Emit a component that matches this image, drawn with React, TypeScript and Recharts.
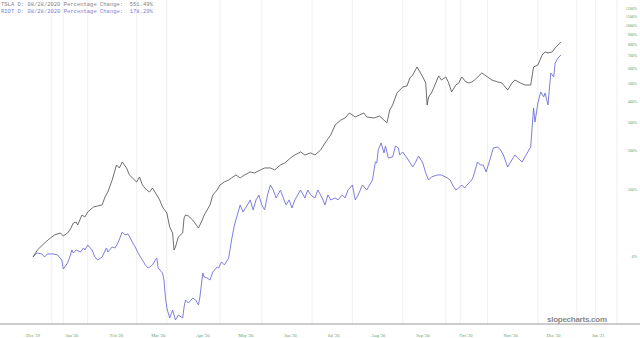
import { LineChart, Line, XAxis, YAxis, ReferenceLine } from 'recharts';

// TSLA, percentage change since the first session
const tslaDates = [
  '2019-12-05', '2019-12-08', '2019-12-13', '2019-12-17', '2019-12-20', '2019-12-24', '2019-12-26', '2019-12-29', '2019-12-31',
  '2020-01-02', '2020-01-04', '2020-01-05', '2020-01-08', '2020-01-10', '2020-01-12', '2020-01-16', '2020-01-19', '2020-01-22',
  '2020-01-24', '2020-01-26', '2020-01-29', '2020-01-31', '2020-02-01', '2020-02-03', '2020-02-05', '2020-02-08', '2020-02-10',
  '2020-02-12', '2020-02-15', '2020-02-17', '2020-02-19', '2020-02-22', '2020-02-24', '2020-02-26', '2020-02-29', '2020-03-02',
  '2020-03-04', '2020-03-07', '2020-03-09', '2020-03-11', '2020-03-12', '2020-03-13', '2020-03-15', '2020-03-18', '2020-03-19',
  '2020-03-20', '2020-03-22', '2020-03-25', '2020-03-27', '2020-03-29', '2020-03-31', '2020-04-02', '2020-04-04', '2020-04-06',
  '2020-04-08', '2020-04-11', '2020-04-13', '2020-04-16', '2020-04-19', '2020-04-21', '2020-04-24', '2020-04-27', '2020-04-30',
  '2020-05-04', '2020-05-07', '2020-05-11', '2020-05-14', '2020-05-18', '2020-05-21', '2020-05-25', '2020-05-28', '2020-06-01',
  '2020-06-04', '2020-06-08', '2020-06-11', '2020-06-15', '2020-06-18', '2020-06-22', '2020-06-25', '2020-06-29', '2020-07-02',
  '2020-07-06', '2020-07-09', '2020-07-12', '2020-07-16', '2020-07-19', '2020-07-22', '2020-07-24', '2020-07-29', '2020-08-02',
  '2020-08-07', '2020-08-09', '2020-08-11', '2020-08-14', '2020-08-18', '2020-08-21', '2020-08-23', '2020-08-25', '2020-08-28',
  '2020-08-30', '2020-09-01', '2020-09-03', '2020-09-04', '2020-09-05', '2020-09-07', '2020-09-10', '2020-09-12', '2020-09-14',
  '2020-09-17', '2020-09-19', '2020-09-21', '2020-09-24', '2020-09-26', '2020-09-28', '2020-10-01', '2020-10-03', '2020-10-05',
  '2020-10-07', '2020-10-12', '2020-10-16', '2020-10-19', '2020-10-23', '2020-10-26', '2020-10-30', '2020-11-02', '2020-11-04',
  '2020-11-08', '2020-11-11', '2020-11-15', '2020-11-17', '2020-11-20', '2020-11-23', '2020-11-25', '2020-11-27', '2020-11-30',
  '2020-12-02', '2020-12-04', '2020-12-06',
];
const tslaChange = [
  0, 7.5, 15.6, 21.7, 25.6, 28.2, 24.3, 28.2, 33.6,
  42.1, 43.6, 39.2, 54.4, 51.2, 59.3, 67.7, 69.5, 71.2,
  86.0, 95.9, 121.8, 146.0, 159.0, 151.1, 167.2, 151.1, 133.6,
  126.5, 117.3, 128.8, 110.6, 100.0, 95.9, 104.2, 89.9, 80.4,
  67.7, 57.6, 36.4, 28.2, 7.5, 10.9, 23.0, 28.2, 49.7,
  54.4, 52.8, 46.6, 40.7, 35.0, 43.6, 54.4, 62.6, 71.2,
  89.9, 100.0, 110.6, 117.3, 121.8, 126.5, 133.6, 126.5, 133.6,
  140.9, 138.5, 146.0, 151.1, 151.1, 146.0, 159.0, 164.4, 178.5,
  187.3, 196.3, 187.3, 193.3, 187.3, 202.6, 225.2, 253.3, 291.7,
  312.6, 321.2, 343.5, 325.6, 334.5, 343.5, 325.6, 321.2, 330.0,
  299.9, 357.5, 381.8, 445.5, 480.3, 486.4, 537.0, 557.1, 613.8,
  577.8, 543.6, 504.8, 381.8, 423.4, 445.5, 504.8, 550.3, 523.8,
  543.6, 504.8, 451.2, 492.4, 504.8, 543.6, 511.1, 504.8, 511.1,
  523.8, 570.8, 543.6, 523.8, 511.1, 504.8, 462.7, 504.8, 523.8,
  504.8, 492.4, 492.4, 613.8, 628.7, 708.1, 733.6, 725.1, 733.6,
  768.8, 796.2, 824.5,
];

// RIOT, percentage change since the first session
const riotDates = [
  '2019-12-05', '2019-12-06', '2019-12-08', '2019-12-11', '2019-12-13', '2019-12-15', '2019-12-19', '2019-12-22', '2019-12-25',
  '2019-12-26', '2019-12-29', '2019-12-31', '2020-01-01', '2020-01-02', '2020-01-04', '2020-01-07', '2020-01-09', '2020-01-10',
  '2020-01-12', '2020-01-15', '2020-01-17', '2020-01-19', '2020-01-22', '2020-01-25', '2020-01-26', '2020-01-29', '2020-01-31',
  '2020-02-02', '2020-02-05', '2020-02-07', '2020-02-09', '2020-02-12', '2020-02-14', '2020-02-16', '2020-02-19', '2020-02-21',
  '2020-02-23', '2020-02-26', '2020-02-28', '2020-02-29', '2020-03-01', '2020-03-04', '2020-03-05', '2020-03-06', '2020-03-07',
  '2020-03-08', '2020-03-09', '2020-03-11', '2020-03-12', '2020-03-13', '2020-03-15', '2020-03-18', '2020-03-19', '2020-03-20',
  '2020-03-22', '2020-03-25', '2020-03-27', '2020-03-29', '2020-03-30', '2020-04-01', '2020-04-02', '2020-04-04', '2020-04-06',
  '2020-04-08', '2020-04-11', '2020-04-12', '2020-04-14', '2020-04-16', '2020-04-19', '2020-04-21', '2020-04-23', '2020-04-26',
  '2020-04-27', '2020-04-29', '2020-05-02', '2020-05-04', '2020-05-06', '2020-05-08', '2020-05-10', '2020-05-12', '2020-05-14',
  '2020-05-16', '2020-05-18', '2020-05-20', '2020-05-22', '2020-05-25', '2020-05-27', '2020-05-29', '2020-05-31', '2020-06-02',
  '2020-06-04', '2020-06-06', '2020-06-08', '2020-06-11', '2020-06-13', '2020-06-15', '2020-06-18', '2020-06-20', '2020-06-23',
  '2020-06-25', '2020-06-27', '2020-06-29', '2020-07-02', '2020-07-04', '2020-07-07', '2020-07-09', '2020-07-11', '2020-07-14',
  '2020-07-16', '2020-07-18', '2020-07-21', '2020-07-24', '2020-07-26', '2020-07-28', '2020-07-30', '2020-07-31', '2020-08-01',
  '2020-08-03', '2020-08-05', '2020-08-06', '2020-08-08', '2020-08-11', '2020-08-13', '2020-08-15', '2020-08-16', '2020-08-18',
  '2020-08-21', '2020-08-25', '2020-08-27', '2020-08-29', '2020-09-01', '2020-09-03', '2020-09-05', '2020-09-07', '2020-09-11',
  '2020-09-14', '2020-09-18', '2020-09-20', '2020-09-22', '2020-09-24', '2020-09-26', '2020-09-28', '2020-09-30', '2020-10-03',
  '2020-10-05', '2020-10-06', '2020-10-09', '2020-10-11', '2020-10-13', '2020-10-15', '2020-10-18', '2020-10-20', '2020-10-23',
  '2020-10-25', '2020-10-27', '2020-10-30', '2020-11-01', '2020-11-04', '2020-11-06', '2020-11-09', '2020-11-11', '2020-11-15',
  '2020-11-17', '2020-11-18', '2020-11-20', '2020-11-22', '2020-11-24', '2020-11-25', '2020-11-27', '2020-11-29', '2020-12-01',
  '2020-12-02', '2020-12-04', '2020-12-06',
];
const riotChange = [
  0, 2.1, 4.2, 3.2, 0, 3.2, 3.2, 2.1, -3.1,
  -11.7, -6.0, 2.1, 7.5, 4.2, 7.5, 5.3, 9.8, 7.5,
  13.2, 7.5, 0, -3.1, 0, 9.8, 5.3, 10.9, 9.8,
  15.6, 29.5, 25.6, 26.9, 16.8, 10.9, 4.2, -3.1, -7.9,
  -10.8, -7.9, -3.1, -1.0, -10.8, -15.3, -21.2, -33.9, -41.0,
  -44.0, -46.8, -42.2, -45.1, -47.9, -45.1, -46.8, -40.4, -35.9,
  -37.9, -34.6, -35.9, -39.1, -33.9, -15.3, -18.7, -19.5, -21.2,
  -14.4, -9.8, -10.8, -5.0, -7.9, -1.0, 19.2, 39.2, 62.6,
  71.2, 59.3, 71.2, 80.4, 62.6, 80.4, 89.9, 71.2, 62.6,
  89.9, 110.6, 100.0, 84.1, 100.0, 84.1, 71.2, 80.4, 66.0,
  80.4, 89.9, 100.0, 84.1, 100.0, 89.9, 84.1, 100.0, 84.1,
  71.2, 89.9, 80.4, 84.1, 80.4, 89.9, 84.1, 100.0, 110.6,
  80.4, 89.9, 110.6, 100.0, 110.6, 121.8, 167.2, 164.4, 202.6,
  225.2, 193.3, 215.3, 178.5, 181.4, 215.3, 208.8, 187.3, 196.3,
  178.5, 153.7, 167.2, 184.3, 164.4, 138.5, 121.8, 128.8, 133.6,
  133.6, 126.5, 121.8, 108.4, 100.0, 104.2, 110.6, 104.2, 115.0,
  121.8, 128.8, 167.2, 159.0, 159.0, 140.9, 178.5, 208.8, 212.0,
  202.6, 187.3, 153.7, 167.2, 187.3, 178.5, 167.2, 181.4, 212.0,
  367.1, 304.1, 391.8, 451.2, 423.4, 445.5, 381.8, 570.8, 543.6,
  643.9, 683.4, 708.1,
];

const monthTicks = [
  '2019-12-05', '2020-01-01', '2020-02-01', '2020-03-01', '2020-04-01', '2020-05-01', '2020-06-01',
  '2020-07-01', '2020-08-01', '2020-09-01', '2020-10-01', '2020-11-01', '2020-12-01', '2021-01-01',
];
const monthLabels = [
  "Dec '19", "Jan '20", "Feb '20", "Mar '20", "Apr '20", "May '20", "Jun '20",
  "Jul '20", "Aug '20", "Sep '20", "Oct '20", "Nov '20", "Dec '20", "Jan '21",
];
const pctTicks = [0, 100, 200, 300, 400, 500, 600, 700, 800, 900, 1000, 1100, 1200];
const gridDates = [
  '2019-12-18', '2019-12-26', '2020-01-12', '2020-02-15', '2020-03-07', '2020-04-13', '2020-05-12', '2020-06-16',
  '2020-07-14', '2020-08-18', '2020-09-17', '2020-09-27', '2020-10-16', '2020-11-20', '2020-12-17', '2020-12-30', '2021-01-14',
];

const toRows = (dates: string[], change: number[]) =>
  dates.map((d, i) => ({ t: Date.parse(d), r: 1 + change[i] / 100 }));

const tslaRows = toRows(tslaDates, tslaChange);
const riotRows = toRows(riotDates, riotChange);
const tickTimes = monthTicks.map((d) => Date.parse(d));

const App = () => {
  return (
    <div style={{ position: 'absolute', left: 0, top: 0, width: 640, height: 338, background: '#fff' }}>
      <LineChart width={640} height={338} margin={{ top: 0, right: 0, bottom: 0, left: 0 }}>
        {gridDates.map((d) => (
          <ReferenceLine key={d} x={Date.parse(d)} stroke="#f0f0f0" strokeWidth={1} />
        ))}
        <XAxis
          type="number"
          dataKey="t"
          domain={[Date.UTC(2019, 10, 12), Date.UTC(2021, 0, 30)]}
          ticks={tickTimes}
          tickFormatter={(v: number) => monthLabels[tickTimes.indexOf(v)] ?? ''}
          height={14}
          axisLine={{ stroke: '#9a9a9a', strokeWidth: 1 }}
          tickLine={false}
          tickMargin={4}
          interval={0}
          tick={{ fill: '#5c9a5c', fontSize: 4.5, fontFamily: 'Liberation Serif' }}
          allowDataOverflow
        />
        <YAxis
          orientation="right"
          mirror
          type="number"
          scale="log"
          domain={[0.5, 14.27]}
          allowDataOverflow
          ticks={pctTicks.map((p) => 1 + p / 100)}
          tickFormatter={(v: number) => `${Math.round((v - 1) * 100)}%`}
          axisLine={false}
          tickLine={false}
          tickSize={0}
          tickMargin={3}
          interval={0}
          tick={{ fill: '#5c9a5c', fontSize: 4, fontFamily: 'Liberation Serif' }}
        />
        <Line
          data={riotRows}
          dataKey="r"
          type="linear"
          stroke="#6f6fd8"
          strokeWidth={0.9}
          dot={false}
          activeDot={false}
          isAnimationActive={false}
        />
        <Line
          data={tslaRows}
          dataKey="r"
          type="linear"
          stroke="#4a4a4a"
          strokeWidth={0.8}
          dot={false}
          activeDot={false}
          isAnimationActive={false}
        />
      </LineChart>
      <svg width={640} height={338} style={{ position: 'absolute', left: 0, top: 0, pointerEvents: 'none' }}>
        <text x={1} y={5.5} fontFamily="Liberation Mono" fontSize={5.5} fill="#858585" xmlSpace="preserve">
          {'TSLA D: 08/28/2020 Percentage Change:  551.49%'}
        </text>
        <text x={1} y={12.5} fontFamily="Liberation Mono" fontSize={5.5} fill="#7f7fd6" xmlSpace="preserve">
          {'RIOT D: 08/28/2020 Percentage Change:  178.29%'}
        </text>
        <text x={547} y={322} fontFamily="Liberation Sans" fontWeight="bold" fontSize={8} fill="#8a8a8a" textLength={60}>
          slopecharts.com
        </text>
      </svg>
    </div>
  );
};

export default App;
